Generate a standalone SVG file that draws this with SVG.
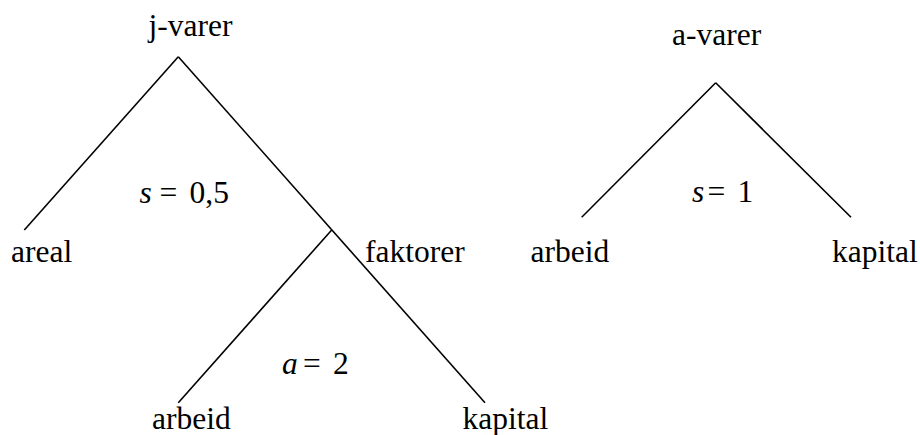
<svg xmlns="http://www.w3.org/2000/svg" width="920" height="435" viewBox="0 0 920 435">
<style>
line{stroke:#000;stroke-width:1.6;fill:none}
text{font-family:"Liberation Serif","Times New Roman",serif;font-size:31.5px;fill:#000}
.i{font-style:italic}
</style>
<rect width="920" height="435" fill="#fff"/>
<g id="connectors">
<line x1="178.3" y1="56.7" x2="24.3" y2="230"/>
<line x1="178.3" y1="56.7" x2="485" y2="402.7"/>
<line x1="331.7" y1="230" x2="178.3" y2="402.7"/>
<line x1="715.7" y1="82.7" x2="581.7" y2="217.3"/>
<line x1="715.7" y1="82.7" x2="851" y2="217.3"/>
</g>
<g id="j-varer"><text x="148.5" y="35.5">j-varer</text></g>
<g id="s-j"><text y="202.7"><tspan class="i" x="139.5">s</tspan><tspan x="159.5">=</tspan><tspan x="189.5">0,5</tspan></text></g>
<g id="areal"><text x="11" y="261.7">areal</text></g>
<g id="faktorer"><text x="365" y="261.7">faktorer</text></g>
<g id="a-j"><text y="374"><tspan class="i" x="282">a</tspan><tspan x="303">=</tspan><tspan x="333">2</tspan></text></g>
<g id="arbeid-j"><text x="152" y="429">arbeid</text></g>
<g id="kapital-j"><text x="462.5" y="429">kapital</text></g>
<g id="a-varer"><text x="672" y="45">a-varer</text></g>
<g id="s-a"><text y="201.7"><tspan class="i" x="692">s</tspan><tspan x="707.5">=</tspan><tspan x="737.5">1</tspan></text></g>
<g id="arbeid-a"><text x="530.5" y="262.3">arbeid</text></g>
<g id="kapital-a"><text x="832" y="262.3">kapital</text></g>
</svg>
